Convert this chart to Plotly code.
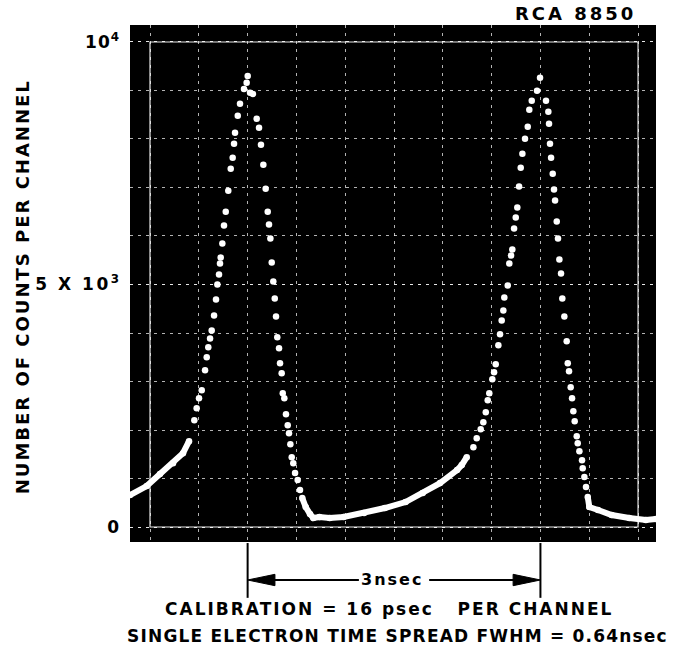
import plotly.graph_objects as go

# ---- data (time in ns from left graticule line, counts per channel)
time_ns = [
    -0.205, -0.034, 0.102, 0.236, 0.338, 0.400, 0.454, 0.478, 0.502, 0.530,
    0.564, 0.581, 0.597, 0.615, 0.632, 0.656, 0.676, 0.690, 0.707, 0.717,
    0.724, 0.741, 0.758, 0.776, 0.802, 0.827, 0.847, 0.861, 0.871, 0.899,
    0.922, 0.963, 0.990, 1.001, 1.025, 1.055,
    1.093, 1.117, 1.137, 1.161, 1.185, 1.206, 1.219, 1.233, 1.247, 1.263,
    1.278, 1.291, 1.304, 1.322, 1.332, 1.349, 1.360, 1.376, 1.393, 1.411,
    1.424, 1.438, 1.452, 1.468, 1.486, 1.513, 1.537, 1.560, 1.595, 1.639,
    1.673, 1.736, 1.841, 1.983, 2.193, 2.406, 2.618, 2.794, 2.971, 3.146,
    3.194, 3.245, 3.313, 3.347, 3.388, 3.415, 3.440, 3.460, 3.476, 3.507,
    3.525, 3.542, 3.569, 3.586, 3.603, 3.620, 3.630, 3.665, 3.681, 3.699,
    3.712, 3.730, 3.747, 3.763, 3.781, 3.798, 3.815, 3.842, 3.870, 3.886,
    3.911, 3.965, 3.996, 4.057,
    4.081, 4.088, 4.098, 4.109, 4.126, 4.139, 4.150, 4.167, 4.180, 4.194,
    4.211, 4.224, 4.245, 4.269, 4.280, 4.293, 4.310, 4.324, 4.337, 4.351,
    4.372, 4.382, 4.399, 4.426, 4.433, 4.450, 4.467, 4.485, 4.501, 4.590,
    4.730, 4.910, 5.080, 5.184,
]
counts = [
    658, 844, 1091, 1317, 1523, 1770, 2202, 2449, 2655, 2819,
    3231, 3498, 3704, 3889, 4054, 4363, 4692, 5000, 5206, 5433,
    5556, 5844, 6214, 6502, 6935, 7387, 7613, 7901, 8128, 8478,
    8724, 9033, 9157, 9300, 8951, 8930,
    8416, 8230, 7881, 7469, 6976, 6502, 6235, 5947, 5453, 5062,
    4712, 4342, 3910, 3683, 3375, 3169, 2757, 2655, 2325, 2099,
    1934, 1708, 1440, 1317, 1111, 967, 761, 597, 412, 268,
    185, 206, 185, 206, 288, 391, 514, 700, 905, 1173,
    1276, 1440, 1646, 1832, 2017, 2161, 2367, 2614, 2758, 3046,
    3190, 3354, 3745, 3972, 4260, 4466, 4733, 4980, 5433, 5598,
    5721, 6153, 6379, 6585, 7018, 7409, 7697, 8006, 8253, 8603,
    8788, 8994, 9261, 8788,
    8562, 8315, 7903, 7615, 7285, 6956, 6730, 6298, 5948, 5515,
    5227, 4713, 4342, 3828, 3375, 3210, 2881, 2655, 2387, 2181,
    1873, 1729, 1564, 1379, 1214, 1029, 823, 617, 412, 350,
    247, 185, 144, 165,
]

# time windows where the trace is so dense it shows as a continuous band
band_windows = [(-1.0, 0.42), (1.55, 3.25), (4.48, 6.0)]

y_tickvals = [0, 5000, 10000]
y_ticktext = ["0",
              "<span style='letter-spacing:2.5px'>5 X 10</span><sup>3</sup>",
              "<span style='letter-spacing:1px'>10</span><sup>4</sup>"]
peak_times = [1.0, 4.0]
separation_label = "3nsec"

# ---- build band trace (with gaps between windows)
band_x, band_y = [], []
for lo, hi in band_windows:
    for t, c in zip(time_ns, counts):
        if lo <= t <= hi:
            band_x.append(t)
            band_y.append(c)
    band_x.append(None)
    band_y.append(None)

FONT = "DejaVu Sans"

fig = go.Figure()
fig.add_trace(go.Scatter(x=band_x, y=band_y, mode="lines",
                         line=dict(color="white", width=6),
                         connectgaps=False, hoverinfo="skip", showlegend=False))
fig.add_trace(go.Scatter(x=time_ns, y=counts, mode="markers",
                         marker=dict(color="white", size=6.5),
                         showlegend=False))

grid_style = dict(gridcolor="rgba(255,255,255,0.7)", gridwidth=1, griddash="3px,5px")

fig.update_xaxes(range=[-0.205, 5.184], showticklabels=False, ticks="",
                 tick0=0, dtick=0.5, showgrid=True, zeroline=False,
                 showline=False, **grid_style)
fig.update_yaxes(range=[-309, 10350], tickvals=y_tickvals, ticktext=y_ticktext,
                 ticks="", showgrid=True, zeroline=False, showline=False,
                 ticklabelstandoff=10,
                 tickfont=dict(family=FONT, size=17, color="black", weight="bold"),
                 minor=dict(dtick=1000, tick0=0, showgrid=True, ticks="", **grid_style),
                 **grid_style)

# graticule frame
fig.add_shape(type="rect", xref="x", yref="y", x0=0, x1=5, y0=0, y1=10000,
              line=dict(color="rgba(255,255,255,0.9)", width=1.2), layer="below")

# peak markers below plot
for t in peak_times:
    fig.add_shape(type="line", xref="x", yref="paper", x0=t, x1=t, y0=-0.002, y1=-0.108,
                  line=dict(color="black", width=2))

# separation arrow (lines + filled heads), drawn as shapes
arrow_y = -0.0735
mid = (peak_times[0] + peak_times[1]) / 2
head_len = 0.28   # ns
head_h = 0.011    # paper
gap = 0.36        # half-gap around label, ns
left_tip, right_tip = peak_times
fig.add_shape(type="line", xref="x", yref="paper", x0=left_tip + head_len * 0.8, x1=mid - gap,
              y0=arrow_y, y1=arrow_y, line=dict(color="black", width=2))
fig.add_shape(type="line", xref="x", yref="paper", x0=mid + gap, x1=right_tip - head_len * 0.8,
              y0=arrow_y, y1=arrow_y, line=dict(color="black", width=2))
fig.add_shape(type="path", xref="x", yref="paper",
              path=f"M {left_tip},{arrow_y} L {left_tip + head_len},{arrow_y + head_h} "
                   f"L {left_tip + head_len},{arrow_y - head_h} Z",
              fillcolor="black", line=dict(color="black", width=1))
fig.add_shape(type="path", xref="x", yref="paper",
              path=f"M {right_tip},{arrow_y} L {right_tip - head_len},{arrow_y + head_h} "
                   f"L {right_tip - head_len},{arrow_y - head_h} Z",
              fillcolor="black", line=dict(color="black", width=1))
fig.add_annotation(x=mid - 0.02, y=arrow_y, xref="x", yref="paper",
                   xanchor="center", yanchor="middle",
                   text="<span style='letter-spacing:2px'>" + separation_label + "</span>",
                   showarrow=False,
                   font=dict(family=FONT, size=16, color="black", weight="bold"))

# captions
fig.add_annotation(x=0.4924, y=-0.1296, xref="paper", yref="paper", showarrow=False,
                   xanchor="center", yanchor="middle",
                   text="<span style='letter-spacing:2px'>CALIBRATION = 16 psec\u00a0\u00a0 PER CHANNEL</span>",
                   font=dict(family=FONT, size=17, color="black", weight="bold"))
fig.add_annotation(x=0.5095, y=-0.1818, xref="paper", yref="paper", showarrow=False,
                   xanchor="center", yanchor="middle",
                   text="<span style='letter-spacing:1.2px'>SINGLE ELECTRON TIME SPREAD FWHM = 0.64nsec</span>",
                   font=dict(family=FONT, size=17, color="black", weight="bold"))
fig.add_annotation(x=0.966, y=1.0213, xref="paper", yref="paper", showarrow=False,
                   xanchor="right", yanchor="middle",
                   text="<span style='letter-spacing:3px'>RCA 8850</span>",
                   font=dict(family=FONT, size=18, color="black", weight="bold"))
fig.add_annotation(x=-0.205, y=0.493, xref="paper", yref="paper", showarrow=False,
                   xanchor="center", yanchor="middle",
                   textangle=-90,
                   text="<span style='letter-spacing:2px'>NUMBER OF COUNTS PER CHANNEL</span>",
                   font=dict(family=FONT, size=18, color="black", weight="bold"))

fig.update_layout(width=675, height=661, autosize=False,
                  margin=dict(l=130, r=19, t=25, b=119, pad=0),
                  plot_bgcolor="black", paper_bgcolor="white",
                  showlegend=False)

fig.write_html("out.html",
               config={"displayModeBar": False},
               post_script="document.body.style.margin='0px';"
                           "document.documentElement.style.margin='0px';")
